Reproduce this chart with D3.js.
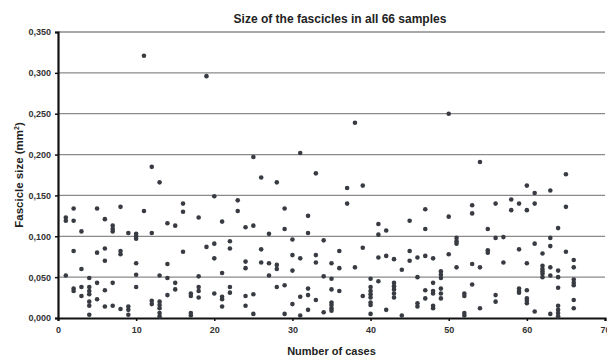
<!DOCTYPE html>
<html>
<head>
<meta charset="utf-8">
<script src="https://cdn.jsdelivr.net/npm/d3@7"></script>
<style>
  html, body { margin: 0; padding: 0; background: #fff; }
  svg { display: block; font-family: "Liberation Sans", Arial, sans-serif; }
</style>
</head>
<body>
<div id="chart"></div>
<script>
// ---- Data ----
const chartTitle = "Size of the fascicles in all 66 samples";
const xAxisTitle = "Number of cases";
const yAxisTitle = "Fascicle size (mm";
const xTickValues = [0, 10, 20, 30, 40, 50, 60, 70];
const yTickValues = [0, 0.05, 0.10, 0.15, 0.20, 0.25, 0.30, 0.35];
const yTickLabels = ["0,000", "0,050", "0,100", "0,150", "0,200", "0,250", "0,300", "0,350"];

const cases = [1,2,3,4,5,6,7,8,9,10,11,12,13,14,15,16,17,18,19,20,21,22,23,24,25,26,27,28,29,30,31,32,33,
               34,35,36,37,38,39,40,41,42,43,44,45,46,47,48,49,50,51,52,53,54,55,56,57,58,59,60,61,62,63,64,65,66];
const sizesPerCase = [
  [0.123, 0.119, 0.052],
  [0.134, 0.119, 0.082, 0.036, 0.033],
  [0.106, 0.060, 0.038, 0.027],
  [0.049, 0.038, 0.033, 0.029, 0.020, 0.015, 0.004],
  [0.134, 0.080, 0.043, 0.023],
  [0.121, 0.085, 0.070, 0.034, 0.014],
  [0.113, 0.109, 0.106, 0.043, 0.015],
  [0.136, 0.082, 0.078, 0.011],
  [0.104, 0.014, 0.010, 0.004],
  [0.103, 0.100, 0.097, 0.067, 0.053, 0.038],
  [0.321, 0.131],
  [0.185, 0.104, 0.021, 0.017],
  [0.166, 0.052, 0.020, 0.016, 0.012, 0.006, 0.002],
  [0.116, 0.066, 0.049, 0.028],
  [0.113, 0.043, 0.035],
  [0.140, 0.130, 0.081],
  [0.030, 0.027, 0.006, 0.003],
  [0.123, 0.051, 0.038, 0.033, 0.025],
  [0.296, 0.087],
  [0.149, 0.091, 0.073, 0.030],
  [0.118, 0.055, 0.026, 0.023, 0.014],
  [0.094, 0.085, 0.038, 0.031],
  [0.144, 0.131],
  [0.111, 0.069, 0.061, 0.027, 0.015],
  [0.197, 0.113, 0.029, 0.005],
  [0.172, 0.084, 0.068],
  [0.103, 0.067, 0.052],
  [0.166, 0.065, 0.060, 0.038],
  [0.134, 0.109, 0.040, 0.005],
  [0.096, 0.077, 0.058, 0.017],
  [0.202, 0.073, 0.026, 0.003],
  [0.125, 0.104, 0.036, 0.028, 0.010],
  [0.177, 0.077, 0.068, 0.022],
  [0.095, 0.051, 0.007],
  [0.067, 0.048, 0.035, 0.019, 0.016, 0.012, 0.009],
  [0.082, 0.061, 0.033],
  [0.159, 0.140],
  [0.239, 0.062],
  [0.162, 0.086, 0.027],
  [0.048, 0.038, 0.033, 0.029, 0.025, 0.019, 0.016, 0.005],
  [0.115, 0.102, 0.074, 0.045],
  [0.107, 0.076, 0.010],
  [0.072, 0.043, 0.039, 0.035, 0.030, 0.025],
  [0.059, 0.003],
  [0.119, 0.082, 0.070],
  [0.074, 0.050, 0.018, 0.014],
  [0.133, 0.109, 0.076, 0.034, 0.024],
  [0.073, 0.043, 0.033, 0.030, 0.015, 0.012],
  [0.057, 0.053, 0.049, 0.036, 0.030, 0.024],
  [0.250, 0.124, 0.078],
  [0.098, 0.094, 0.091, 0.062],
  [0.030, 0.027, 0.006, 0.003],
  [0.138, 0.128, 0.066, 0.041],
  [0.191, 0.062, 0.012],
  [0.109, 0.083, 0.080],
  [0.140, 0.098, 0.028, 0.020],
  [0.099, 0.068],
  [0.145, 0.132],
  [0.140, 0.084, 0.036, 0.033, 0.031],
  [0.162, 0.132, 0.067, 0.034, 0.024, 0.021, 0.018],
  [0.153, 0.140, 0.091, 0.008],
  [0.079, 0.064, 0.060, 0.057, 0.054, 0.050],
  [0.156, 0.098, 0.088, 0.062, 0.052, 0.005],
  [0.110, 0.058, 0.050, 0.037, 0.015, 0.010, 0.006, 0.002],
  [0.176, 0.136, 0.081],
  [0.071, 0.062, 0.047, 0.043, 0.040, 0.022, 0.012]
];

// ---- Layout ----
const W = 607, H = 358;
const margin = { left: 58, right: 2, top: 32, bottom: 40 };

const svg = d3.select("#chart").append("svg")
  .attr("width", W).attr("height", H);
svg.append("rect").attr("width", W).attr("height", H).attr("fill", "#fff");

const x = d3.scaleLinear().domain([0, 70]).range([margin.left, W - margin.right]);
const y = d3.scaleLinear().domain([0, 0.35]).range([H - margin.bottom, margin.top]);

// gridlines
svg.append("g")
  .selectAll("line")
  .data(yTickValues.filter(v => v > 0))
  .join("line")
  .attr("x1", x(0)).attr("x2", x(70))
  .attr("y1", d => y(d)).attr("y2", d => y(d))
  .attr("stroke", "#8a8a8a").attr("stroke-width", 1.3);

// y axis
const yAxis = d3.axisLeft(y).tickValues(yTickValues)
  .tickFormat((d, i) => yTickLabels[i]).tickSize(3).tickPadding(4);
const gy = svg.append("g").attr("transform", `translate(${x(0)},0)`).call(yAxis);
gy.select(".domain").attr("stroke", "#111").attr("stroke-width", 2.2);
gy.selectAll(".tick line").attr("stroke", "#111").attr("stroke-width", 1.5);
gy.selectAll(".tick text").attr("fill", "#333").attr("font-size", "9px").attr("font-weight", "bold")
  .attr("font-family", "Liberation Sans, Arial, sans-serif");

// x axis
const xAxis = d3.axisBottom(x).tickValues(xTickValues).tickSize(3).tickPadding(6);
const gx = svg.append("g").attr("transform", `translate(0,${y(0)})`).call(xAxis);
gx.select(".domain").attr("stroke", "#111").attr("stroke-width", 2.2);
gx.selectAll(".tick line").attr("stroke", "#111").attr("stroke-width", 1.5);
gx.selectAll(".tick text").attr("fill", "#333").attr("font-size", "9px").attr("font-weight", "bold")
  .attr("font-family", "Liberation Sans, Arial, sans-serif");

// points
const points = [];
cases.forEach((c, i) => sizesPerCase[i].forEach(v => points.push({ c, v })));
svg.append("g")
  .selectAll("circle")
  .data(points)
  .join("circle")
  .attr("cx", d => x(d.c))
  .attr("cy", d => y(d.v))
  .attr("r", 2.3)
  .attr("fill", "#383c42");

// titles
svg.append("text")
  .attr("x", 340).attr("y", 23)
  .attr("text-anchor", "middle")
  .attr("font-size", "12px").attr("font-weight", "bold").attr("fill", "#222")
  .text(chartTitle);

svg.append("text")
  .attr("x", (x(0) + x(70)) / 2).attr("y", 355)
  .attr("text-anchor", "middle")
  .attr("font-size", "11px").attr("font-weight", "bold").attr("fill", "#222")
  .text(xAxisTitle);

const yt = svg.append("text")
  .attr("transform", `translate(23,${(y(0) + y(0.35)) / 2}) rotate(-90)`)
  .attr("text-anchor", "middle")
  .attr("font-size", "11.5px").attr("font-weight", "bold").attr("fill", "#222");
yt.append("tspan").text(yAxisTitle);
yt.append("tspan").attr("font-size", "7px").attr("dy", "-4").text("2");
yt.append("tspan").attr("dy", "4").text(")");
</script>
</body>
</html>
